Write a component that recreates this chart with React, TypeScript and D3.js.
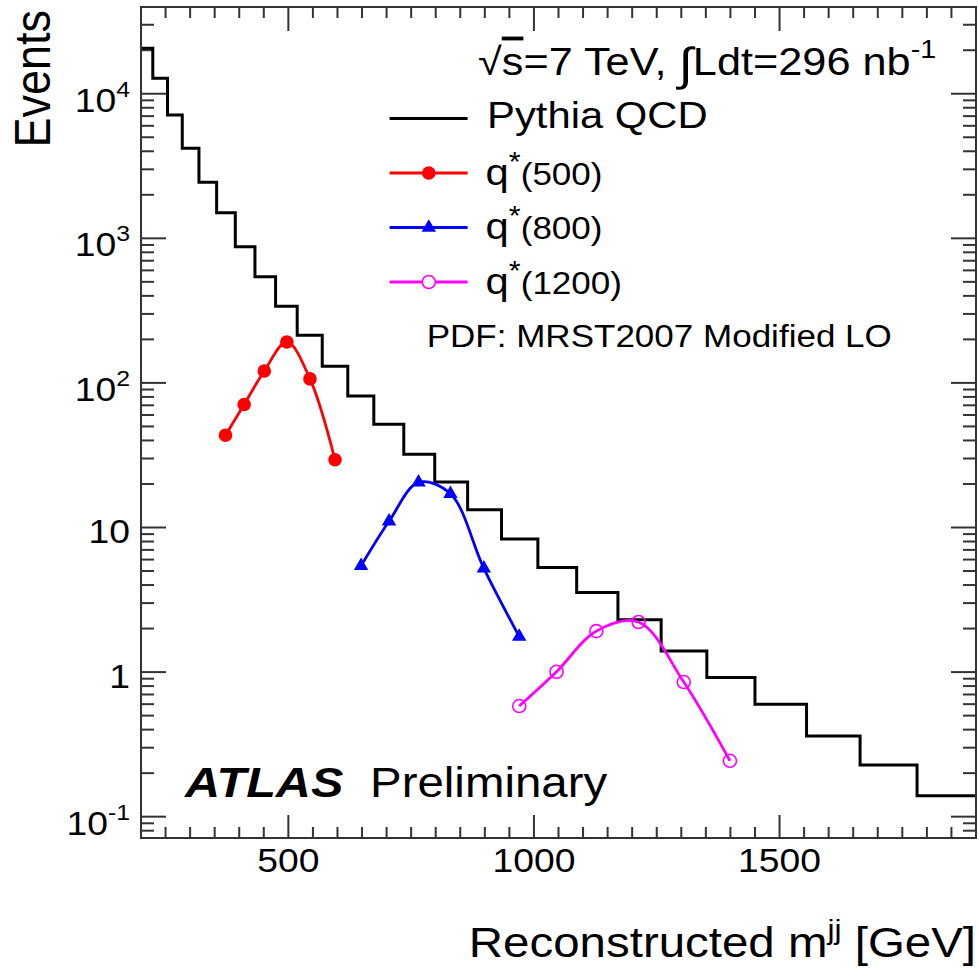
import React from 'react';
import * as d3 from 'd3';

// ---------- data ----------
const binEdges = [200, 224, 254, 284, 318, 354, 392, 432, 474, 518, 569, 621, 674, 735, 798, 865, 934, 1008, 1087, 1171, 1259, 1352, 1450, 1555, 1664, 1780, 1900];
const qcdEvents = [20600, 12780, 7130, 4190, 2440, 1500, 876, 543, 339, 214, 130.5, 81.3, 51.8, 32.1, 20.6, 13.25, 8.31, 5.29, 3.55, 2.3, 1.4, 0.919, 0.598, 0.361, 0.2275, 0.1396];

const q500Mass = [372, 410, 451, 497, 544, 595];
const q500Events = [43.5, 70.9, 121, 192, 106.6, 29.4];
const q800Mass = [648, 705, 765, 830, 898, 970];
const q800Events = [5.43, 11.04, 20.5, 17.1, 5.21, 1.76];
const q1200Mass = [970, 1046, 1127, 1213, 1305, 1399];
const q1200Events = [0.582, 1.005, 1.92, 2.22, 0.853, 0.2435];

const yTickExps = [-1, 0, 1, 2, 3, 4];
const xTickValues = [500, 1000, 1500];
const xDomain = [200, 1900];
const yDomain = [0.0712, 39800];

// ---------- layout ----------
const W = 979;
const H = 973;
const X0 = 141, X1 = 976, Y0 = 7, Y1 = 838;
const S = 1.13; // horizontal text stretch
const FONT = '"Liberation Sans", Arial, Helvetica, sans-serif';
const AXIS = '#333';

function Txt({ x, y, anchor = 'start', size, weight = 'normal', fstyle = 'normal', rotate = 0, children }: any) {
  return (
    <g transform={`translate(${x},${y}) scale(${S},1)${rotate ? ` rotate(${rotate})` : ''}`}>
      <text textAnchor={anchor} fontSize={size} fontFamily={FONT} fontWeight={weight} fontStyle={fstyle} fill="#000">
        {children}
      </text>
    </g>
  );
}

export default function App() {
  const x = d3.scaleLinear().domain(xDomain).range([X0, X1]);
  const y = d3.scaleLog().domain(yDomain).range([Y1, Y0]);

  const histPts: [number, number][] = binEdges.map((e, i) => [e, qcdEvents[Math.min(i, qcdEvents.length - 1)]]);
  const histPath = d3.line<[number, number]>().x(d => x(d[0])).y(d => y(d[1])).curve(d3.curveStepAfter)(histPts) || '';

  const smooth = d3.line<[number, number]>().x(d => x(d[0])).y(d => y(d[1])).curve(d3.curveCatmullRom.alpha(0.5));
  const s500 = q500Mass.map((m, i) => [m, q500Events[i]] as [number, number]);
  const s800 = q800Mass.map((m, i) => [m, q800Events[i]] as [number, number]);
  const s1200 = q1200Mass.map((m, i) => [m, q1200Events[i]] as [number, number]);

  const tri = d3.symbol(d3.symbolTriangle, 90)() || '';

  // minor ticks
  const yMinor: number[] = [];
  for (let e = -2; e <= 4; e++) for (let k = 2; k <= 9; k++) {
    const v = k * Math.pow(10, e);
    if (v > yDomain[0] && v < yDomain[1]) yMinor.push(v);
  }
  const xMinor: number[] = [];
  for (let v = 250; v < 1900; v += 50) if (v % 500 !== 0) xMinor.push(v);

  const legX0 = 389.6, legX1 = 467.6, legMx = 428.8;
  const legY = [118.5, 173, 227.5, 282];

  return (
    <svg width={W} height={H} style={{ display: 'block', position: 'absolute', left: 0, top: 0 }}>
      <rect x={0} y={0} width={W} height={H} fill="#fff" />
      <defs>
        <clipPath id="plot"><rect x={X0} y={Y0} width={X1 - X0} height={Y1 - Y0} /></clipPath>
      </defs>

      {/* ticks */}
      <g stroke={AXIS} strokeWidth={2}>
        {yTickExps.map(e => {
          const yy = y(Math.pow(10, e));
          return <g key={'ym' + e}>
            <line x1={X0} x2={X0 + 25} y1={yy} y2={yy} />
            <line x1={X1} x2={X1 - 25} y1={yy} y2={yy} />
          </g>;
        })}
        {yMinor.map((v, i) => {
          const yy = y(v);
          return <g key={'yn' + i}>
            <line x1={X0} x2={X0 + 13} y1={yy} y2={yy} />
            <line x1={X1} x2={X1 - 13} y1={yy} y2={yy} />
          </g>;
        })}
        {xTickValues.map(v => (
          <g key={'xm' + v}>
            <line x1={x(v)} x2={x(v)} y1={Y1} y2={Y1 - 23} />
            <line x1={x(v)} x2={x(v)} y1={Y0} y2={Y0 + 24} />
          </g>
        ))}
        {xMinor.map(v => (
          <g key={'xn' + v}>
            <line x1={x(v)} x2={x(v)} y1={Y1} y2={Y1 - 11} />
            <line x1={x(v)} x2={x(v)} y1={Y0} y2={Y0 + 11} />
          </g>
        ))}
      </g>

      {/* QCD histogram */}
      <g clipPath="url(#plot)">
        <path d={histPath} fill="none" stroke="#000" strokeWidth={3} />
      </g>

      {/* signal curves */}
      <path d={smooth(s500) || ''} fill="none" stroke="#ff0000" strokeWidth={2.8} />
      <path d={smooth(s800) || ''} fill="none" stroke="#0000ff" strokeWidth={2.8} />
      <path d={smooth(s1200) || ''} fill="none" stroke="#ff00ff" strokeWidth={2.8} />
      {s500.map((d, i) => <circle key={'r' + i} cx={x(d[0])} cy={y(d[1])} r={6.8} fill="#ff0000" />)}
      {s800.map((d, i) => <path key={'b' + i} d={tri} transform={`translate(${x(d[0])},${y(d[1])})`} fill="#0000ff" />)}
      {s1200.map((d, i) => <circle key={'m' + i} cx={x(d[0])} cy={y(d[1])} r={6.5} fill="none" stroke="#ff00ff" strokeWidth={1.6} />)}

      {/* frame */}
      <rect x={X0} y={Y0} width={X1 - X0} height={Y1 - Y0} fill="none" stroke={AXIS} strokeWidth={2} />

      {/* y tick labels */}
      {yTickExps.map(e => {
        const yy = y(Math.pow(10, e));
        if (e === 0) return <Txt key={'yl' + e} x={130} y={yy + 16} anchor="end" size={33}>1</Txt>;
        if (e === 1) return <Txt key={'yl' + e} x={130} y={yy + 16} anchor="end" size={33}>10</Txt>;
        return (
          <Txt key={'yl' + e} x={130} y={yy + 18} anchor="end" size={33}>
            10<tspan fontSize={22} dy={-15}>{String(e)}</tspan>
          </Txt>
        );
      })}

      {/* x tick labels */}
      {xTickValues.map(v => (
        <Txt key={'xl' + v} x={x(v)} y={871.5} anchor="middle" size={33}>{String(v)}</Txt>
      ))}

      {/* axis titles */}
      <Txt x={50} y={10} anchor="end" size={45} rotate={-90}>Events</Txt>
      <Txt x={976} y={957} anchor="end" size={42}>
        Reconstructed m<tspan fontSize={28} dy={-18}>jj</tspan><tspan dy={18}> [GeV]</tspan>
      </Txt>

      {/* legend header */}
      <Txt x={478} y={75} size={38.3}>
        √<tspan textDecoration="overline">s</tspan>=7 TeV, <tspan fontSize={46} dy={5}>∫</tspan><tspan dy={-5}>Ldt=296 nb</tspan><tspan fontSize={25.5} dy={-17}>-1</tspan>
      </Txt>

      {/* legend entries */}
      <line x1={legX0} x2={legX1} y1={legY[0]} y2={legY[0]} stroke="#000" strokeWidth={3} />
      <Txt x={487} y={128.3} size={37}>Pythia QCD</Txt>

      <line x1={legX0} x2={legX1} y1={legY[1]} y2={legY[1]} stroke="#ff0000" strokeWidth={2.8} />
      <circle cx={legMx} cy={legY[1]} r={6.8} fill="#ff0000" />
      <Txt x={485.6} y={legY[1] + 11.5} size={37}>q<tspan fontSize={27} dy={-14}>*</tspan><tspan fontSize={31} dy={14}>(500)</tspan></Txt>

      <line x1={legX0} x2={legX1} y1={legY[2]} y2={legY[2]} stroke="#0000ff" strokeWidth={2.8} />
      <path d={tri} transform={`translate(${legMx},${legY[2]})`} fill="#0000ff" />
      <Txt x={485.6} y={legY[2] + 11.5} size={37}>q<tspan fontSize={27} dy={-14}>*</tspan><tspan fontSize={31} dy={14}>(800)</tspan></Txt>

      <line x1={legX0} x2={legX1} y1={legY[3]} y2={legY[3]} stroke="#ff00ff" strokeWidth={2.8} />
      <circle cx={legMx} cy={legY[3]} r={6.5} fill="#fff" stroke="#ff00ff" strokeWidth={1.6} />
      <Txt x={485.6} y={legY[3] + 11.5} size={37}>q<tspan fontSize={27} dy={-14}>*</tspan><tspan fontSize={31} dy={14}>(1200)</tspan></Txt>

      <Txt x={426.7} y={347.3} size={31}>PDF: MRST2007 Modified LO</Txt>

      {/* ATLAS label */}
      <Txt x={185} y={796.7} size={43} weight="bold" fstyle="italic">ATLAS</Txt>
      <Txt x={370} y={796.7} size={42}>Preliminary</Txt>
    </svg>
  );
}
